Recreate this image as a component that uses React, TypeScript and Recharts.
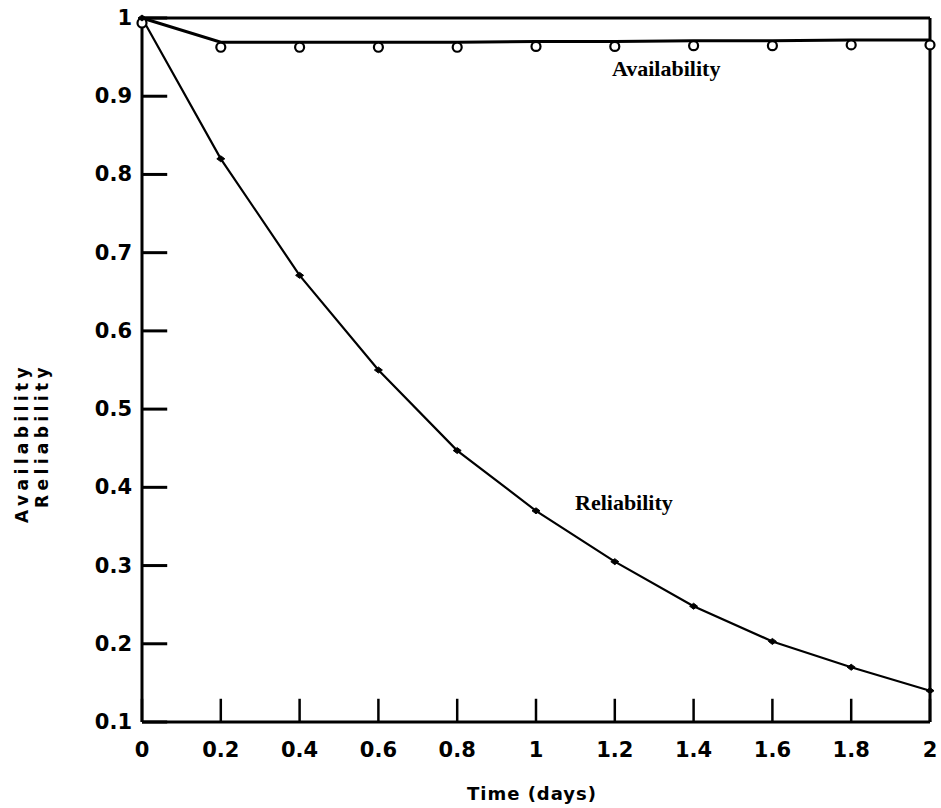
import React from 'react';
import { LineChart, Line, XAxis, YAxis, ReferenceLine, Customized } from 'recharts';

const times = [0, 0.2, 0.4, 0.6, 0.8, 1, 1.2, 1.4, 1.6, 1.8, 2];
const availability = [1, 0.969, 0.969, 0.969, 0.969, 0.97, 0.97, 0.971, 0.971, 0.972, 0.972];
const reliability = [1, 0.82, 0.671, 0.55, 0.447, 0.37, 0.305, 0.248, 0.203, 0.17, 0.14];

const xTicks = [0, 0.2, 0.4, 0.6, 0.8, 1, 1.2, 1.4, 1.6, 1.8, 2];
const xTickLabels = ['0', '0.2', '0.4', '0.6', '0.8', '1', '1.2', '1.4', '1.6', '1.8', '2'];
const yTicks = [0.1, 0.2, 0.3, 0.4, 0.5, 0.6, 0.7, 0.8, 0.9, 1];
const yTickLabels = ['0.1', '0.2', '0.3', '0.4', '0.5', '0.6', '0.7', '0.8', '0.9', '1'];

const X_MIN = 0;
const X_MAX = 2;
const Y_MIN = 0.1;
const Y_MAX = 1;
// inward tick lengths expressed as fractions of each axis range
const Y_TICK_LEN = 0.032 * (X_MAX - X_MIN);
const X_TICK_LEN = 0.033 * (Y_MAX - Y_MIN);

const data = times.map((t, i) => ({ t, availability: availability[i], reliability: reliability[i] }));

const tickFont = { fontFamily: 'DejaVu Sans', fontWeight: 700, fontSize: 21 } as const;

const PLOT_LEFT = 142;
const PLOT_BOTTOM = 722;

const YTick = (props: any) => {
  const { y, index } = props;
  return (
    <text x={PLOT_LEFT - 10} y={y} textAnchor="end" dominantBaseline="central" fill="#000" style={tickFont}>
      {yTickLabels[index]}
    </text>
  );
};

const XTick = (props: any) => {
  const { x, index } = props;
  return (
    <text x={x} y={PLOT_BOTTOM + 28} textAnchor="middle" dominantBaseline="central" fill="#000" style={tickFont}>
      {xTickLabels[index]}
    </text>
  );
};

const AvailDot = (props: any) => {
  const { cx, cy } = props;
  if (cx == null || cy == null) return null;
  return <circle cx={cx} cy={cy + 5} r={4.5} fill="#fff" stroke="#000" strokeWidth={2.2} />;
};

const RelDot = (props: any) => {
  const { cx, cy } = props;
  if (cx == null || cy == null) return null;
  return (
    <path
      d={`M${cx - 4},${cy} L${cx},${cy - 3} L${cx + 4},${cy} L${cx},${cy + 3} Z`}
      fill="#000"
      stroke="#000"
      strokeWidth={1}
    />
  );
};

const Texts = () => (
  <g>
    <text
      transform="translate(28,363) rotate(-90)"
      textAnchor="end"
      fill="#000"
      style={{ fontFamily: 'DejaVu Sans', fontWeight: 700, fontSize: 17, letterSpacing: 4.4 }}
    >
      Availability
    </text>
    <text
      transform="translate(48,363) rotate(-90)"
      textAnchor="end"
      fill="#000"
      style={{ fontFamily: 'DejaVu Sans', fontWeight: 700, fontSize: 17, letterSpacing: 4.4 }}
    >
      Reliability
    </text>
    <text
      x={532}
      y={793}
      textAnchor="middle"
      dominantBaseline="central"
      fill="#000"
      style={{ fontFamily: 'DejaVu Sans', fontWeight: 700, fontSize: 18, letterSpacing: 1 }}
    >
      Time (days)
    </text>
    <text
      x={612}
      y={68}
      dominantBaseline="central"
      fill="#000"
      style={{ fontFamily: 'Liberation Serif', fontWeight: 700, fontSize: 22 }}
    >
      Availability
    </text>
    <text
      x={575}
      y={502}
      dominantBaseline="central"
      fill="#000"
      style={{ fontFamily: 'Liberation Serif', fontWeight: 700, fontSize: 22 }}
    >
      Reliability
    </text>
  </g>
);

export default function App() {
  return (
    <div style={{ position: 'absolute', left: 0, top: 0, background: '#fff' }}>
      <LineChart width={941} height={808} data={data} margin={{ top: 18, right: 11, bottom: 0, left: 0 }}>
        <XAxis
          dataKey="t"
          type="number"
          domain={[X_MIN, X_MAX]}
          ticks={xTicks}
          height={86}
          tickSize={0}
          tickMargin={0}
          tickLine={false}
          axisLine={{ stroke: '#000', strokeWidth: 3 }}
          tick={<XTick />}
          interval={0}
        />
        <YAxis
          type="number"
          domain={[Y_MIN, Y_MAX]}
          ticks={yTicks}
          width={142}
          tickSize={0}
          tickMargin={0}
          tickLine={false}
          axisLine={{ stroke: '#000', strokeWidth: 3 }}
          tick={<YTick />}
          interval={0}
        />
        <ReferenceLine y={Y_MAX} stroke="#000" strokeWidth={3} />
        <ReferenceLine x={X_MAX} stroke="#000" strokeWidth={3} />
        {yTicks.map((v) => (
          <ReferenceLine
            key={'yt' + v}
            segment={[
              { x: X_MIN, y: v },
              { x: X_MIN + Y_TICK_LEN, y: v },
            ]}
            stroke="#000"
            strokeWidth={3}
          />
        ))}
        {xTicks.map((v) => (
          <ReferenceLine
            key={'xt' + v}
            segment={[
              { x: v, y: Y_MIN },
              { x: v, y: Y_MIN + X_TICK_LEN },
            ]}
            stroke="#000"
            strokeWidth={2.5}
          />
        ))}
        <Line
          type="linear"
          dataKey="availability"
          stroke="#000"
          strokeWidth={3}
          dot={<AvailDot />}
          isAnimationActive={false}
        />
        <Line
          type="linear"
          dataKey="reliability"
          stroke="#000"
          strokeWidth={2.2}
          dot={<RelDot />}
          isAnimationActive={false}
        />
        <Customized component={Texts} />
      </LineChart>
    </div>
  );
}
